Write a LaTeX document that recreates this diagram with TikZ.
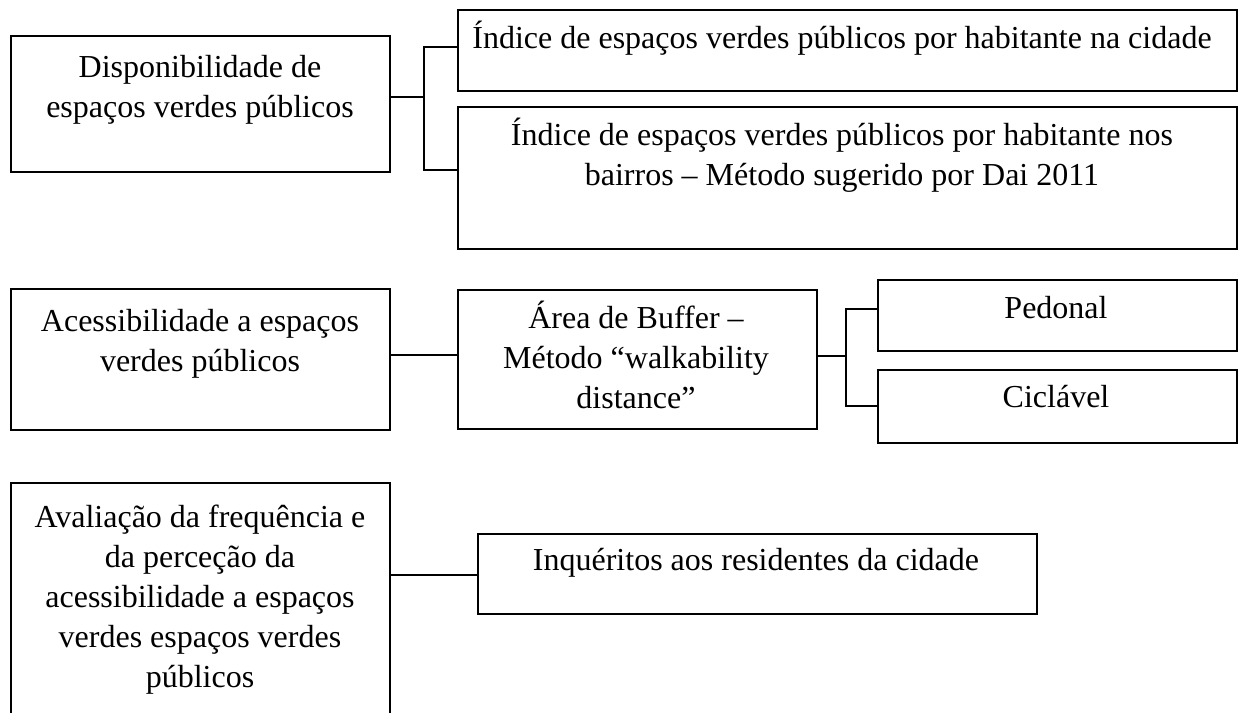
\documentclass[tikz,border=0pt]{standalone}
\usepackage{fontspec}
\setmainfont{Liberation Serif}
\newcommand\lblfont{\fontsize{32}{40}\selectfont}
\tikzset{
  box/.style={draw, line width=1.7pt, inner sep=0pt, anchor=north west},
  lbl/.style={anchor=north, align=center, inner sep=0pt, font=\lblfont},
  con/.style={line width=1.7pt}
}
\begin{document}
\begin{tikzpicture}[x=1pt,y=-1pt]
\useasboundingbox[fill=white] (0,0) rectangle (1239,712);
% boxes
\node[box, minimum width=379pt, minimum height=136pt] (b1) at (10,35) {};
\node[box, minimum width=779pt, minimum height=81pt] (b2) at (457,9) {};
\node[box, minimum width=779pt, minimum height=142pt] (b3) at (457,106) {};
\node[box, minimum width=379pt, minimum height=141pt] (b4) at (10,288) {};
\node[box, minimum width=359pt, minimum height=139pt] (b5) at (457,289) {};
\node[box, minimum width=359pt, minimum height=71pt] (b6) at (877,279) {};
\node[box, minimum width=359pt, minimum height=73pt] (b7) at (877,369) {};
\node[box, minimum width=379pt, minimum height=240pt] (b8) at (10,482) {};
\node[box, minimum width=559pt, minimum height=80pt] (b9) at (477,533) {};
% labels
\node[lbl] (t1) at (200,49) {\strut Disponibilidade de\\espaços verdes públicos};
\node[lbl] (t2) at (842,20) {\strut Índice de espaços verdes públicos por habitante na cidade};
\node[lbl] (t3) at (842,117) {\strut Índice de espaços verdes públicos por habitante nos\\bairros – Método sugerido por Dai 2011};
\node[lbl] (t4) at (200,303) {\strut Acessibilidade a espaços\\verdes públicos};
\node[lbl] (t5) at (636,300) {\strut Área de Buffer –\\Método “walkability\\distance”};
\node[lbl] (t6) at (1056,290) {\strut Pedonal};
\node[lbl] (t7) at (1056,379) {\strut Ciclável};
\node[lbl] (t8) at (200,499) {\strut Avaliação da frequência e\\da perceção da\\acessibilidade a espaços\\verdes espaços verdes\\públicos};
\node[lbl] (t9) at (756,542) {\strut Inquéritos aos residentes da cidade};
% connectors
\coordinate (j1) at (424,97);
\coordinate (s2) at (457,47);
\coordinate (s3) at (457,170);
\draw[con] (b1.east |- j1) -- (j1);
\draw[con] (s2) -| (j1) |- (s3);
\coordinate (j4) at (420,355);
\draw[con] (b4.east |- j4) -- (b5.west |- j4);
\coordinate (j2) at (846,356);
\coordinate (s6) at (877,309);
\coordinate (s7) at (877,406);
\draw[con] (b5.east |- j2) -- (j2);
\draw[con] (s6) -| (j2) |- (s7);
\coordinate (j3) at (433,575);
\draw[con] (b8.east |- j3) -- (b9.west |- j3);
\end{tikzpicture}
\end{document}
